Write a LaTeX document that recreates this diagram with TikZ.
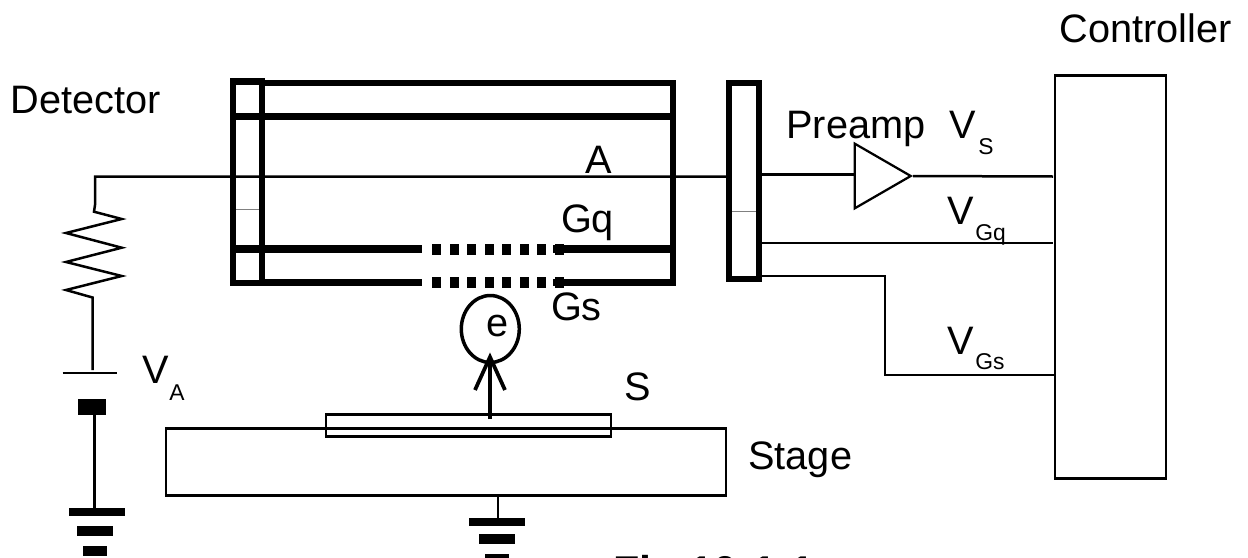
\documentclass[tikz,border=0pt]{standalone}
\usepackage{fontspec}
\setmainfont{Liberation Sans}
\usetikzlibrary{shapes.geometric}

\tikzset{
lbl/.style={anchor=base west, inner sep=0pt, font=\fontsize{22.6}{24}\selectfont},
sublbl/.style={anchor=base west, inner sep=0pt, font=\fontsize{13}{15}\selectfont},
wire/.style={black, line width=0.5mm},
bar/.style={black, line width=1.3mm},
}

\begin{document}
\begin{tikzpicture}[x=0.02cm, y=-0.02cm]
\path[use as bounding box] (0,0) rectangle (1248,558);
\clip (0,0) rectangle (1248,558);

%detector tube
\draw[bar] (233,81.5) rectangle (262,283);
\draw[bar] (262,83)--(673,83)--(673,282.5)--(553,282.5);
\draw[bar] (262,282.5)--(422,282.5);
\draw[bar, line width=1.4mm] (233,116.5)--(673,116.5);
\draw[bar, line width=1.6mm] (233,249)--(422,249);
\draw[bar, line width=1.6mm] (553,249)--(673,249);

%dotted grids
\foreach \y in {249,282}{
\foreach \x in {432,449.5,...,555}{
\fill[black] (\x,\y-5.5) rectangle (\x+9,\y+5.5);
}
}

\draw[gray, line width=0.2mm] (236,209)--(259,209);

%right flange
\draw[bar] (729,83) rectangle (759,279);
\draw[gray, line width=0.2mm] (732,211)--(756,211);

%anode wire, resistor, battery
\coordinate (flangeA) at (727,176.7);
\coordinate (corner) at (95,176.7);
\coordinate (resTop) at (95,205);
\coordinate (resBot) at (92.5,297.5);
\coordinate (batt) at (92.5,370);
\draw[wire] (flangeA)--(corner)--(resTop)--(94,211.7)--(121.7,219)--(66,233)--(121.7,247.7)--(66,262)--(121.7,276)--(66,290)--(resBot)--(batt);
\draw[wire] (62.7,373)--(117.3,373);

\node[fill=black, inner sep=0pt, minimum width=0.56cm, minimum height=0.31cm] (battBlock) at (92,407) {};
\node[fill=black, inner sep=0pt, minimum width=1.12cm, minimum height=0.155cm] (gndA) at (97,512) {};
\node[fill=black, inner sep=0pt, minimum width=0.72cm, minimum height=0.2cm] (gndB) at (95,531) {};
\node[fill=black, inner sep=0pt, minimum width=0.48cm, minimum height=0.2cm] (gndC) at (95,551) {};
\draw[wire] (battBlock.south -| 94.5,0)--(gndA.north -| 94.5,0);

%stage and sample
\node[draw=black, line width=0.55mm, minimum width=11.2cm, minimum height=1.35cm, inner sep=0pt] (stage) at (446,462) {};
\node[draw=black, line width=0.55mm, minimum width=5.7cm, minimum height=0.45cm, inner sep=0pt] (sample) at (468.5,425.5) {};
\node[fill=black, inner sep=0pt, minimum width=1.12cm, minimum height=0.155cm] (gndD) at (497,522) {};
\node[fill=black, inner sep=0pt, minimum width=0.72cm, minimum height=0.2cm] (gndE) at (497,539) {};
\node[fill=black, inner sep=0pt, minimum width=0.48cm, minimum height=0.2cm] (gndF) at (497,559) {};
\draw[wire] (stage.south -| 498,0)--(gndD.north -| 498,0);

%electron
\node[ellipse, draw=black, line width=0.7mm, minimum width=1.16cm, minimum height=1.34cm, inner sep=0pt] (elec) at (490.3,329) {};
\coordinate (tip) at (490,357);
\draw[black, line width=0.75mm] (490,419)--(tip);
\draw[black, line width=0.75mm] (475,390)--(tip)--(505,390);

%preamp and controller
\node[draw=black, line width=0.5mm, minimum width=2.22cm, minimum height=8.06cm, inner sep=0pt] (ctrl) at (1110.5,277) {};
\node[isosceles triangle, isosceles triangle apex angle=60, draw=black, line width=0.45mm, minimum height=1.12cm, inner sep=0pt, anchor=apex] (preamp) at (913,176) {};
\coordinate (flangeQ) at (762,243);
\coordinate (flangeS) at (762,276);
\draw[wire] (762,174.7)--(preamp.west |- 0,174.7);
\draw[wire] (preamp.apex)--(1053,176.5);
\draw[wire] (flangeQ)--(1053,243);
\draw[wire] (flangeS)--(885,276)--(885,375)--(ctrl.west |- 0,375);

%labels
\node[lbl] (detector) at (10,113) {Detector};
\node[lbl] (controller) at (1059,42.7) {Controller};
\node[lbl] (preampL) at (786,138) {Preamp};
\node[lbl] (vs) at (949,138) {V};
\node[sublbl] (vsS) at (978,154) {S};
\node[lbl] (vgq) at (947,224) {V};
\node[sublbl] (vgqS) at (975,240) {Gq};
\node[lbl] (vgs) at (947,354) {V};
\node[sublbl] (vgsS) at (975,369) {Gs};
\node[lbl] (va) at (141.7,383) {V};
\node[sublbl] (vaS) at (169,400) {A};
\node[lbl] (anode) at (585,173) {A};
\node[lbl] (gq) at (560.7,232) {Gq};
\node[lbl] (gs) at (550.7,320.7) {Gs};
\node[lbl] (eL) at (486,336.7) {e};
\node[lbl] (sL) at (624,400) {S};
\node[lbl] (stageL) at (748,469) {Stage};
\node[lbl, font=\fontsize{24.5}{26}\selectfont\bfseries] (fig) at (613,586) {Fig.10-1-1};

\end{tikzpicture}
\end{document}
